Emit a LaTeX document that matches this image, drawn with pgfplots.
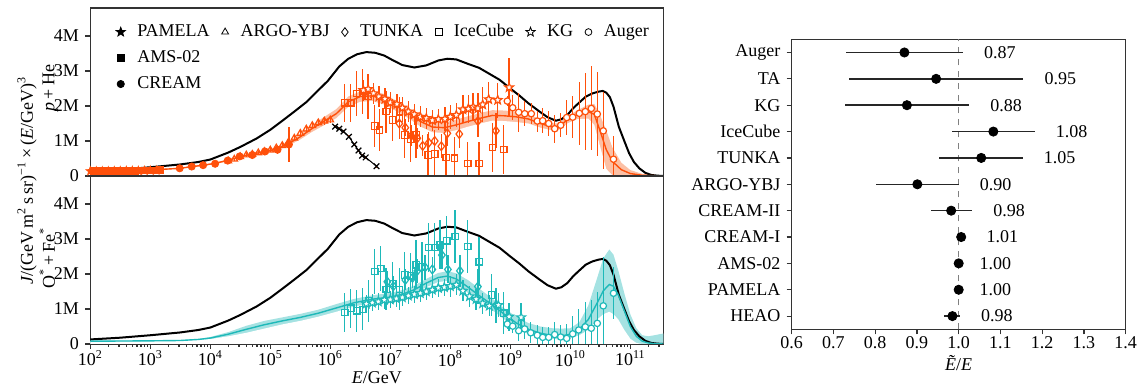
\documentclass[border=0pt]{standalone}
\usepackage{fontspec}
\setmainfont{Liberation Serif}
\usepackage{pgfplots}
\pgfplotsset{compat=1.18}
\usepackage{pgfplotstable}
\definecolor{orn}{RGB}{255,80,10}
\definecolor{ornband}{RGB}{252,192,165}
\definecolor{cyn}{RGB}{30,185,185}
\definecolor{cynband}{RGB}{165,226,226}

\pgfdeclareplotmark{pstar}{%
 \pgfpathmoveto{\pgfpointpolar{90}{\pgfplotmarksize}}%
 \pgfpathlineto{\pgfpointpolar{126}{0.42\pgfplotmarksize}}%
 \pgfpathlineto{\pgfpointpolar{162}{\pgfplotmarksize}}%
 \pgfpathlineto{\pgfpointpolar{198}{0.42\pgfplotmarksize}}%
 \pgfpathlineto{\pgfpointpolar{234}{\pgfplotmarksize}}%
 \pgfpathlineto{\pgfpointpolar{270}{0.42\pgfplotmarksize}}%
 \pgfpathlineto{\pgfpointpolar{306}{\pgfplotmarksize}}%
 \pgfpathlineto{\pgfpointpolar{342}{0.42\pgfplotmarksize}}%
 \pgfpathlineto{\pgfpointpolar{18}{\pgfplotmarksize}}%
 \pgfpathlineto{\pgfpointpolar{54}{0.42\pgfplotmarksize}}%
 \pgfpathclose
 \pgfusepathqfillstroke}

% all-particle model (x = log10 E/GeV, y in millions)
\pgfplotstableread{
x y
2.0 0.13
2.5 0.18
3.0 0.25
3.5 0.33
3.8 0.40
4.0 0.47
4.3 0.67
4.5 0.83
4.77 1.07
5.0 1.32
5.21 1.59
5.4 1.84
5.6 2.11
5.8 2.45
5.96 2.72
6.15 3.13
6.3 3.35
6.45 3.48
6.6 3.54
6.75 3.52
6.9 3.44
7.05 3.30
7.2 3.17
7.4 3.10
7.6 3.16
7.8 3.30
7.95 3.35
8.1 3.33
8.3 3.20
8.48 3.09
8.65 2.92
8.82 2.75
9.0 2.50
9.15 2.30
9.3 2.08
9.48 1.85
9.62 1.68
9.76 1.58
9.85 1.62
9.95 1.74
10.05 1.94
10.15 2.10
10.26 2.27
10.37 2.36
10.47 2.41
10.54 2.43
10.6 2.38
10.66 2.25
10.72 1.98
10.81 1.40
10.9 1.00
10.98 0.65
11.06 0.40
11.15 0.22
11.25 0.09
11.35 0.03
11.45 0.01
11.55 0.0
}\allpart

\pgfplotstableread{
x y lo hi
2.0 0.14 0.13 0.15
2.5 0.15 0.14 0.16
3.0 0.17 0.16 0.18
3.5 0.22 0.205 0.235
3.7 0.27 0.255 0.285
3.9 0.31 0.29 0.33
4.1 0.37 0.35 0.39
4.3 0.45 0.42 0.48
4.5 0.55 0.52 0.58
4.7 0.63 0.59 0.67
4.9 0.69 0.65 0.73
5.1 0.77 0.72 0.82
5.3 0.92 0.86 0.98
5.5 1.12 1.04 1.20
5.7 1.36 1.26 1.46
5.9 1.57 1.45 1.69
6.1 1.78 1.65 1.91
6.3 2.12 1.97 2.27
6.5 2.27 2.12 2.42
6.7 2.29 2.14 2.44
6.9 2.19 2.04 2.34
7.1 2.00 1.85 2.15
7.3 1.80 1.65 1.95
7.5 1.56 1.41 1.71
7.7 1.40 1.25 1.55
7.9 1.38 1.23 1.53
8.1 1.46 1.31 1.61
8.3 1.56 1.41 1.71
8.5 1.65 1.50 1.80
8.7 1.73 1.58 1.88
8.9 1.72 1.57 1.87
9.1 1.69 1.54 1.84
9.3 1.63 1.50 1.76
9.5 1.50 1.38 1.62
9.7 1.40 1.30 1.50
9.8 1.40 1.30 1.50
9.95 1.60 1.50 1.70
10.1 1.74 1.62 1.86
10.3 1.84 1.64 2.04
10.4 1.76 1.46 2.06
10.5 1.27 0.82 1.72
10.6 0.75 0.20 1.30
10.7 0.42 0.02 0.82
10.85 0.18 0.0 0.38
11.0 0.07 0.0 0.17
11.2 0.02 0.0 0.06
11.55 0.0 0.0 0.01
}\phemodel

\pgfplotstableread{
x y lo hi
2.0 0.08 0.07 0.09
3.0 0.09 0.08 0.10
3.5 0.10 0.09 0.11
3.8 0.13 0.12 0.14
4.0 0.17 0.14 0.20
4.3 0.28 0.22 0.34
4.6 0.42 0.32 0.52
4.9 0.55 0.44 0.66
5.2 0.66 0.56 0.76
5.5 0.76 0.66 0.86
5.8 0.88 0.78 0.98
6.1 1.03 0.92 1.14
6.4 1.18 1.07 1.29
6.7 1.28 1.17 1.39
7.0 1.34 1.22 1.46
7.2 1.42 1.30 1.54
7.4 1.55 1.43 1.67
7.6 1.74 1.62 1.86
7.8 1.90 1.77 2.03
7.95 1.94 1.80 2.08
8.1 1.86 1.70 2.02
8.3 1.62 1.45 1.82
8.5 1.36 1.20 1.56
8.7 1.12 0.96 1.30
8.9 0.85 0.70 1.02
9.1 0.60 0.45 0.78
9.3 0.42 0.28 0.60
9.5 0.31 0.18 0.50
9.7 0.24 0.14 0.45
9.85 0.23 0.13 0.44
10.0 0.28 0.16 0.45
10.15 0.42 0.25 0.62
10.3 0.70 0.40 1.10
10.45 1.18 0.70 1.90
10.55 1.52 0.85 2.45
10.65 1.70 0.92 2.70
10.72 1.65 0.85 2.55
10.8 1.40 0.70 2.10
10.9 0.95 0.40 1.45
11.0 0.50 0.15 0.85
11.1 0.22 0.03 0.45
11.2 0.08 0.0 0.25
11.3 0.03 0.0 0.22
11.4 0.01 0.0 0.25
11.55 0.0 0.0 0.30
}\ofemodel

% ---- p+He data ----
\pgfplotstableread{
x y e
2.0 0.14 0.01
2.1 0.14 0.01
2.2 0.14 0.01
2.3 0.14 0.01
2.4 0.145 0.01
2.5 0.145 0.01
2.6 0.15 0.01
2.7 0.15 0.01
2.8 0.15 0.01
2.9 0.155 0.01
3.0 0.16 0.01
3.1 0.16 0.01
}\pamT
\pgfplotstableread{
x y e
2.05 0.14 0.01
2.15 0.14 0.01
2.25 0.14 0.01
2.35 0.145 0.01
2.45 0.145 0.01
2.55 0.15 0.01
2.65 0.15 0.01
2.75 0.15 0.01
2.85 0.155 0.01
2.95 0.16 0.01
3.05 0.16 0.01
3.16 0.17 0.01
}\amsT
\pgfplotstableread{
x y e
3.49 0.22 0.01
3.69 0.27 0.01
3.88 0.31 0.015
4.08 0.35 0.02
4.29 0.44 0.03
4.49 0.56 0.04
4.70 0.60 0.05
4.91 0.70 0.07
5.12 0.75 0.12
5.31 0.90 0.50
}\creamT
\pgfplotstableread{
x y e
4.30 0.43 0.04
4.40 0.48 0.04
4.50 0.55 0.04
4.60 0.60 0.05
4.70 0.62 0.05
4.80 0.66 0.05
4.90 0.70 0.05
5.00 0.74 0.06
5.10 0.80 0.06
5.20 0.87 0.07
5.30 0.96 0.07
5.40 1.08 0.08
5.50 1.22 0.08
5.60 1.34 0.09
5.70 1.44 0.09
5.80 1.52 0.10
5.90 1.57 0.10
6.00 1.60 0.10
}\argoT
\pgfplotstableread{
x y e
6.08 1.41 0.04
6.15 1.35 0.04
6.22 1.27 0.04
6.31 1.12 0.04
6.40 0.90 0.04
6.47 0.73 0.04
6.53 0.58 0.04
6.59 0.53 0.04
6.77 0.28 0.04
}\xT
\pgfplotstableread{
x y e
6.24 2.09 0.55
6.34 2.09 0.55
6.44 2.36 0.65
6.54 2.41 0.65
6.63 2.27 0.65
6.74 1.43 0.60
6.82 1.31 0.60
6.93 1.84 0.60
7.04 1.60 0.60
7.15 1.65 0.60
7.24 1.17 0.65
7.34 1.05 0.65
7.43 1.17 0.65
7.63 0.60 0.60
7.74 0.63 0.60
7.93 0.53 0.60
8.07 0.51 0.60
8.29 0.36 0.60
8.48 0.36 0.60
8.70 0.81 0.70
8.89 0.76 0.70
}\icT
\pgfplotstableread{
x y e
7.15 1.50 0.25
7.25 1.38 0.25
7.35 1.15 0.30
7.45 1.08 0.30
7.54 0.86 0.30
7.64 0.95 0.30
7.74 1.00 0.30
7.85 0.85 0.35
7.95 1.22 0.35
8.15 1.20 0.40
8.46 1.57 0.45
8.76 1.29 0.50
}\tunT
\pgfplotstableread{
x y e
6.55 2.45 0.30
6.63 2.48 0.30
6.72 2.36 0.30
6.81 2.27 0.30
6.91 2.20 0.30
7.00 2.10 0.30
7.11 2.05 0.30
7.20 1.95 0.30
7.30 1.84 0.30
7.40 1.76 0.30
7.50 1.69 0.30
7.60 1.65 0.30
7.70 1.59 0.30
7.80 1.62 0.30
7.91 1.63 0.35
8.00 1.69 0.35
8.10 1.74 0.35
8.21 1.90 0.40
8.30 1.92 0.40
8.38 1.97 0.40
8.46 1.93 0.45
8.54 2.04 0.50
8.64 2.19 0.50
8.79 2.17 0.50
8.98 2.53 0.85
}\kgT
\pgfplotstableread{
x y e
8.95 2.14 0.15
9.04 1.95 0.35
9.14 1.82 0.55
9.24 1.78 0.35
9.35 1.78 0.30
9.45 1.57 0.30
9.54 1.58 0.35
9.64 1.50 0.35
9.74 1.35 0.40
9.84 1.45 0.35
9.94 1.67 0.50
10.04 1.68 0.60
10.15 1.79 0.90
10.25 1.84 1.10
10.35 1.93 1.20
10.45 1.77 1.20
10.55 1.29 1.10
10.72 0.48 0.65
}\augT

% ---- O+Fe data ----
\pgfplotstableread{
x y e
6.24 0.90 0.55
6.34 1.02 0.55
6.44 0.95 0.60
6.54 0.99 0.60
6.64 1.24 0.60
6.74 2.07 0.65
6.84 2.16 0.65
6.93 1.56 0.60
7.04 1.73 0.60
7.15 1.56 0.60
7.24 1.97 0.65
7.34 1.95 0.65
7.43 2.26 0.70
7.53 2.20 0.70
7.64 2.76 0.70
7.74 2.76 0.70
7.83 2.83 0.70
7.94 2.95 0.70
8.08 3.07 0.75
8.29 2.78 0.75
8.48 2.35 0.70
8.69 1.40 0.60
8.89 0.88 0.60
}\icB
\pgfplotstableread{
x y e
6.95 1.78 0.30
7.05 1.65 0.30
7.25 1.83 0.30
7.37 1.89 0.30
7.45 2.09 0.35
7.58 2.19 0.35
7.70 2.13 0.35
7.86 2.54 0.40
7.96 2.13 0.40
8.16 2.09 0.45
8.46 1.64 0.50
8.76 1.10 0.50
}\tunB
\pgfplotstableread{
x y e
6.60 1.15 0.25
6.70 1.18 0.25
6.80 1.21 0.25
6.90 1.26 0.25
7.00 1.27 0.25
7.10 1.30 0.25
7.20 1.33 0.25
7.30 1.38 0.25
7.40 1.42 0.25
7.50 1.45 0.25
7.60 1.50 0.25
7.70 1.55 0.25
7.80 1.60 0.25
7.90 1.62 0.25
8.00 1.65 0.30
8.10 1.69 0.30
8.21 1.52 0.30
8.32 1.36 0.30
8.43 1.28 0.30
8.54 1.16 0.30
8.65 1.09 0.30
8.80 1.11 0.35
8.98 0.78 0.40
9.18 0.76 0.40
}\kgB
\pgfplotstableread{
x y e
8.95 0.57 0.15
9.04 0.51 0.20
9.14 0.38 0.30
9.24 0.43 0.30
9.34 0.32 0.30
9.45 0.25 0.30
9.54 0.19 0.30
9.64 0.19 0.30
9.74 0.27 0.35
9.84 0.20 0.35
9.94 0.16 0.40
10.04 0.29 0.50
10.14 0.40 0.60
10.25 0.49 0.70
10.35 0.45 0.80
10.45 0.59 0.90
10.55 1.09 1.40
10.72 1.45 0.75
}\augB

% ---- scale factors ----
\pgfplotstableread{
i v em ep lx lab
10 0.870 0.139 0.140 1.060 0.87
9 0.946 0.209 0.209 1.205 0.95
8 0.876 0.149 0.149 1.075 0.88
7 1.083 0.098 0.099 1.232 1.08
6 1.054 0.100 0.099 1.203 1.05
5 0.901 0.099 0.099 1.050 0.90
4 0.982 0.049 0.050 1.082 0.98
3 1.006 0.003 0.003 1.066 1.01
2 1.000 0.0 0.0 1.049 1.00
1 1.000 0.0 0.0 1.049 1.00
0 0.985 0.020 0.018 1.053 0.98
}\scales

\pgfplotsset{
  leftpanel/.style={
    scale only axis, width=286.5pt, height=84pt,
    xmin=2, xmax=11.55, ymin=0, ymax=4.8,
    ytick={0,1,2,3,4}, yticklabels={0,1M,2M,3M,4M},
    tick align=outside, ytick pos=left, xtick pos=left,
    axis line style={line width=0.6pt, black!80},
    every tick/.style={black!80, line width=0.6pt},
    major tick length=2.5pt, minor tick length=1.4pt,
  },
  eb/.style={error bars/.cd, y dir=both, y explicit, error mark=none,
    error bar style={line width=0.75pt, color=#1}},
  omk/.style={only marks, mark options={fill=white, draw=#1, line width=0.6pt}},
}

\begin{document}
\fontsize{9pt}{11pt}\selectfont
\begin{tikzpicture}
\path[use as bounding box] (0,0) rectangle (571pt,195pt);

% ================= top panel =================
\begin{axis}[leftpanel, at={(45.15pt,107pt)}, anchor=south west,
  xtick=\empty,
  legend columns=6,
  legend style={draw=none, fill=none, at={(0.034,0.94)}, anchor=north west,
    font=\fontsize{9pt}{11pt}\selectfont,
    /tikz/every odd column/.append style={column sep=5pt},
    /tikz/every even column/.append style={column sep=5pt},
    row sep=3.6pt, nodes={inner sep=1pt}},
  legend cell align=left,
  legend image code/.code={\draw[#1] plot coordinates {(0pt,0pt)};},
]
% band: fill up to hi, then blank out below lo
\addplot[draw=none, fill=ornband, forget plot] table[x=x,y=hi]{\phemodel} \closedcycle;
\addplot[draw=none, fill=white, forget plot] table[x=x,y=lo]{\phemodel} \closedcycle;
\addplot[black, line width=1pt, forget plot] table[x=x,y=y]{\allpart};
\addplot[orn, line width=0.7pt, forget plot] table[x=x,y=y]{\phemodel};

\addplot[forget plot, only marks, mark=pstar, mark size=2.2pt, orn, mark options={fill=orn}, eb=orn] table[x=x,y=y,y error=e]{\pamT};
\addplot[forget plot, only marks, mark=square*, mark size=1.6pt, orn, mark options={fill=orn}, eb=orn] table[x=x,y=y,y error=e]{\amsT};
\addplot[forget plot, only marks, mark=*, mark size=1.8pt, orn, mark options={fill=orn}, eb=orn] table[x=x,y=y,y error=e]{\creamT};
\addplot[forget plot, omk=orn, mark=triangle, mark size=1.9pt, eb=orn] table[x=x,y=y,y error=e]{\argoT};
\addplot[forget plot, black, line width=0.5pt, mark=x, mark size=2pt, mark options={black, line width=0.6pt}, eb=orn] table[x=x,y=y,y error=e]{\xT};
\addplot[forget plot, omk=orn, mark=square, mark size=1.6pt, eb=orn] table[x=x,y=y,y error=e]{\icT};
\addplot[forget plot, omk=orn, mark=diamond, mark size=2.2pt, eb=orn] table[x=x,y=y,y error=e]{\tunT};
\addplot[forget plot, omk=orn, mark=pstar, mark size=2.3pt, eb=orn] table[x=x,y=y,y error=e]{\kgT};
\addplot[forget plot, omk=orn, mark=*, mark size=1.6pt, eb=orn] table[x=x,y=y,y error=e]{\augT};

\addlegendimage{only marks, mark=pstar, mark size=2.4pt, black, mark options={fill=black}}
\addlegendentry{PAMELA}
\addlegendimage{only marks, mark=triangle, mark size=2pt, black, mark options={fill=white}}
\addlegendentry{ARGO-YBJ}
\addlegendimage{only marks, mark=diamond, mark size=2.2pt, black, mark options={fill=white}}
\addlegendentry{TUNKA}
\addlegendimage{only marks, mark=square, mark size=1.7pt, black, mark options={fill=white}}
\addlegendentry{IceCube}
\addlegendimage{only marks, mark=pstar, mark size=2.4pt, black, mark options={fill=white}}
\addlegendentry{KG}
\addlegendimage{only marks, mark=*, mark size=1.7pt, black, mark options={fill=white}}
\addlegendentry{Auger}
\addlegendimage{only marks, mark=square*, mark size=1.7pt, black, mark options={fill=black}}
\addlegendentry{AMS-02}
\addlegendimage{empty legend}\addlegendentry{}
\addlegendimage{empty legend}\addlegendentry{}
\addlegendimage{empty legend}\addlegendentry{}
\addlegendimage{empty legend}\addlegendentry{}
\addlegendimage{empty legend}\addlegendentry{}
\addlegendimage{only marks, mark=*, mark size=1.8pt, black, mark options={fill=black}}
\addlegendentry{CREAM}
\end{axis}

% ================= bottom panel =================
\begin{axis}[leftpanel, at={(45.15pt,23pt)}, anchor=south west,
  xtick={2,3,4,5,6,7,8,9,10,11},
  xticklabels={10\textsuperscript{2},10\textsuperscript{3},10\textsuperscript{4},10\textsuperscript{5},10\textsuperscript{6},10\textsuperscript{7},10\textsuperscript{8},10\textsuperscript{9},10\textsuperscript{10},10\textsuperscript{11}},
  xticklabel style={yshift=2.5pt},
  minor xtick={2.301,2.477,2.602,2.699,2.778,2.845,2.903,2.954,
    3.301,3.477,3.602,3.699,3.778,3.845,3.903,3.954,
    4.301,4.477,4.602,4.699,4.778,4.845,4.903,4.954,
    5.301,5.477,5.602,5.699,5.778,5.845,5.903,5.954,
    6.301,6.477,6.602,6.699,6.778,6.845,6.903,6.954,
    7.301,7.477,7.602,7.699,7.778,7.845,7.903,7.954,
    8.301,8.477,8.602,8.699,8.778,8.845,8.903,8.954,
    9.301,9.477,9.602,9.699,9.778,9.845,9.903,9.954,
    10.301,10.477,10.602,10.699,10.778,10.845,10.903,10.954,
    11.301,11.477},
  xlabel={\textit{E}/GeV},
  xlabel style={at={(axis description cs:0.5,-0.2)}, anchor=center},
]
\addplot[draw=none, fill=cynband] table[x=x,y=hi]{\ofemodel} \closedcycle;
\addplot[draw=none, fill=white] table[x=x,y=lo]{\ofemodel} \closedcycle;
\addplot[black, line width=1pt] table[x=x,y=y]{\allpart};
\addplot[cyn, line width=0.7pt] table[x=x,y=y]{\ofemodel};

\addplot[omk=cyn, mark=square, mark size=1.6pt, eb=cyn] table[x=x,y=y,y error=e]{\icB};
\addplot[omk=cyn, mark=diamond, mark size=2.2pt, eb=cyn] table[x=x,y=y,y error=e]{\tunB};
\addplot[omk=cyn, mark=pstar, mark size=2.3pt, eb=cyn] table[x=x,y=y,y error=e]{\kgB};
\addplot[omk=cyn, mark=*, mark size=1.6pt, eb=cyn] table[x=x,y=y,y error=e]{\augB};
\end{axis}

% shared y labels
\node[rotate=90, anchor=base] at (16.5pt,104.75pt) {\textit{J}/(GeV\,m\textsuperscript{2}\,s\,sr)\textsuperscript{−1}\,×\,(\textit{E}/GeV)\textsuperscript{3}};
\node[rotate=90, anchor=base] at (27.2pt,151pt) {\textit{p}\,+\,He};
\node[rotate=90, anchor=base] at (27.5pt,66pt) {O\textsuperscript{*}\,+\,Fe\textsuperscript{*}};

% ================= right panel =================
\begin{axis}[at={(395.85pt,30.35pt)}, anchor=south west,
  scale only axis, width=167pt, height=145pt,
  xmin=0.6, xmax=1.4, ymin=-0.5, ymax=10.5,
  xtick={0.6,0.7,0.8,0.9,1.0,1.1,1.2,1.3,1.4},
  xticklabels={0.6,0.7,0.8,0.9,1.0,1.1,1.2,1.3,1.4},
  ytick={0,1,2,3,4,5,6,7,8,9,10},
  yticklabels={HEAO,PAMELA,AMS-02,CREAM-I,CREAM-II,ARGO-YBJ,TUNKA,IceCube,KG,TA,Auger},
  tick align=outside, xtick pos=left, ytick pos=left,
  axis line style={line width=0.6pt, black!80},
  every tick/.style={black!80, line width=0.6pt},
  major tick length=2.5pt,
  xticklabel style={yshift=2pt},
  xlabel={\textit{Ẽ}/\textit{E}},
  xlabel style={at={(axis description cs:0.5,-0.117)}, anchor=center},
]
\addplot[gray, dashed, line width=0.6pt] coordinates {(1,-0.5) (1,10.5)};
\addplot[only marks, mark=*, mark size=2.3pt, black,
  error bars/.cd, x dir=both, x explicit, error mark=none,
  error bar style={line width=0.75pt, black!85}]
  table[x=v, y=i, x error plus=ep, x error minus=em]{\scales};
\addplot[only marks, mark=none, nodes near coords, point meta=explicit symbolic,
  nodes near coords style={anchor=west, inner sep=0pt}]
  table[x=lx, y=i, meta=lab]{\scales};
\end{axis}
\end{tikzpicture}
\end{document}
